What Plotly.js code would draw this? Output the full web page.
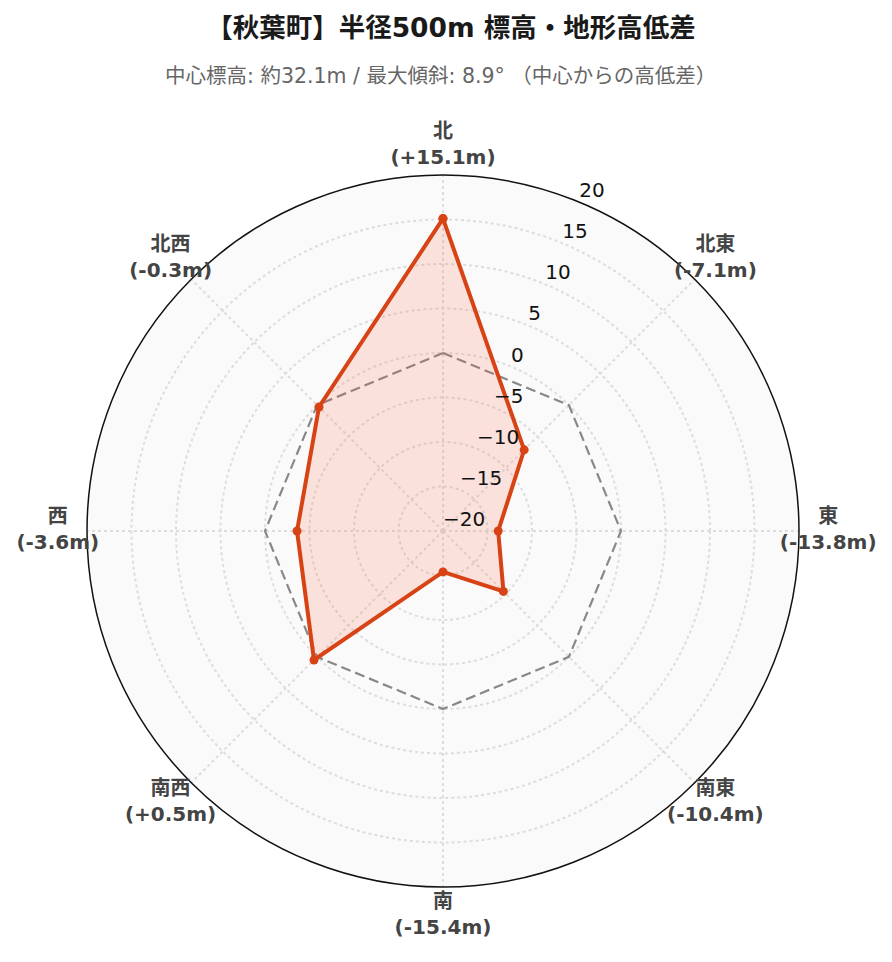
<!DOCTYPE html>
<html>
<head>
<meta charset="utf-8">
<script src="https://cdn.plot.ly/plotly-3.0.1.min.js"></script>
<style>html,body{margin:0;padding:0;background:#fff;}</style>
</head>
<body>
<div id="chart" style="width:892px;height:962px;"></div>
<script>
const directions = ["北", "北東", "東", "南東", "南", "南西", "西", "北西"];
const elevationDiff = [15.1, -7.1, -13.8, -10.4, -15.4, 0.5, -3.6, -0.3];
const referenceLevel = [0, 0, 0, 0, 0, 0, 0, 0];
const radialTicks = [-20, -15, -10, -5, 0, 5, 10, 15, 20];
const radialRange = [-20, 20];
const titleText = "【秋葉町】半径500m 標高・地形高低差";
const subtitleText = "中心標高: 約32.1m / 最大傾斜: 8.9° （中心からの高低差）";

// styling / placement constants
const W = 892, H = 962;
const CX = 443, CY = 531, R = 356;      // main polar centre & radius (px)
const LABEL_R = 400;                    // label ring subplot radius (px)
const LABEL_POS = 0.963;                // fraction of label ring
const TICK_THETA = 22.5;                // radial tick label direction (deg clockwise from north)

function fmt(v) { return (v > 0 ? "+" : "") + v.toFixed(1) + "m"; }
const dirLabels = directions.map((d, i) => "<b>" + d + "</b><br><b>(" + fmt(elevationDiff[i]) + ")</b>");
const tickLabels = radialTicks.map(v => (v < 0 ? "\u2212" + Math.abs(v) : String(v)));

const closeLoop = a => a.concat([a[0]]);
const FONT = "DejaVu Sans, Noto Sans CJK JP, sans-serif";

function dom(r) {
  return {
    x: [(CX - r) / W, (CX + r) / W],
    y: [(H - CY - r) / H, (H - CY + r) / H]
  };
}

const traces = [
  {
    type: "scatterpolar",
    subplot: "polar",
    r: closeLoop(referenceLevel),
    theta: closeLoop(directions),
    mode: "lines",
    line: { color: "#888888", width: 2.2, dash: "10px,5px" },
    hoverinfo: "skip",
    showlegend: false
  },
  {
    type: "scatterpolar",
    subplot: "polar",
    r: closeLoop(elevationDiff),
    theta: closeLoop(directions),
    mode: "lines+markers",
    fill: "toself",
    fillcolor: "rgba(255,87,51,0.15)",
    line: { color: "#d84315", width: 4 },
    marker: { color: "#d84315", size: 9 },
    showlegend: false
  },
  {
    type: "scatterpolar",
    subplot: "polar2",
    r: directions.map(() => LABEL_POS),
    theta: directions,
    mode: "text",
    text: dirLabels,
    textposition: "middle center",
    textfont: { size: 20, color: "#444", family: FONT },
    cliponaxis: false,
    hoverinfo: "skip",
    showlegend: false
  },
  {
    type: "scatterpolar",
    subplot: "polar3",
    r: radialTicks,
    theta: radialTicks.map(() => TICK_THETA),
    mode: "text",
    text: tickLabels,
    textposition: "top right",
    textfont: { size: 20, color: "#111", family: FONT },
    cliponaxis: false,
    hoverinfo: "skip",
    showlegend: false
  }
];

const hiddenAxes = {
  bgcolor: "rgba(0,0,0,0)",
  radialaxis: { visible: false },
};

const layout = {
  width: W,
  height: H,
  paper_bgcolor: "#ffffff",
  font: { family: FONT, color: "#444" },
  margin: { l: 0, r: 0, t: 0, b: 0 },
  showlegend: false,
  title: {
    text: "<b>" + titleText + "</b>",
    x: 451 / W, xanchor: "center",
    y: 1 - 28 / H, yref: "container", yanchor: "middle",
    font: { size: 26.5, color: "#1a1a1a", family: FONT }
  },
  annotations: [
    {
      text: subtitleText,
      xref: "paper", yref: "paper",
      x: 440 / W, y: 1 - 76 / H,
      xanchor: "center", yanchor: "middle",
      showarrow: false,
      font: { size: 20.5, color: "#666", family: FONT }
    }
  ],
  polar: {
    domain: dom(R),
    bgcolor: "#fafafa",
    radialaxis: {
      range: radialRange,
      tickvals: radialTicks,
      angle: 90 - TICK_THETA,
      showticklabels: false,
      showline: false,
      ticks: "",
      gridcolor: "#dddddd",
      griddash: "dot",
      gridwidth: 1.5
    },
    angularaxis: {
      type: "category",
      categoryarray: directions,
      rotation: 90,
      direction: "clockwise",
      showticklabels: false,
      ticks: "",
      showline: true,
      linecolor: "#111",
      linewidth: 1.5,
      gridcolor: "#dddddd",
      griddash: "dot",
      gridwidth: 1.5
    }
  },
  polar2: {
    domain: dom(LABEL_R),
    bgcolor: "rgba(0,0,0,0)",
    radialaxis: { visible: false, range: [0, 1] },
    angularaxis: {
      visible: false,
      type: "category",
      categoryarray: directions,
      rotation: 90,
      direction: "clockwise"
    }
  },
  polar3: {
    domain: dom(R),
    bgcolor: "rgba(0,0,0,0)",
    radialaxis: { visible: false, range: radialRange },
    angularaxis: {
      visible: false,
      type: "linear",
      thetaunit: "degrees",
      rotation: 90,
      direction: "clockwise"
    }
  }
};

Plotly.newPlot("chart", traces, layout, { displayModeBar: false });
</script>
</body>
</html>
